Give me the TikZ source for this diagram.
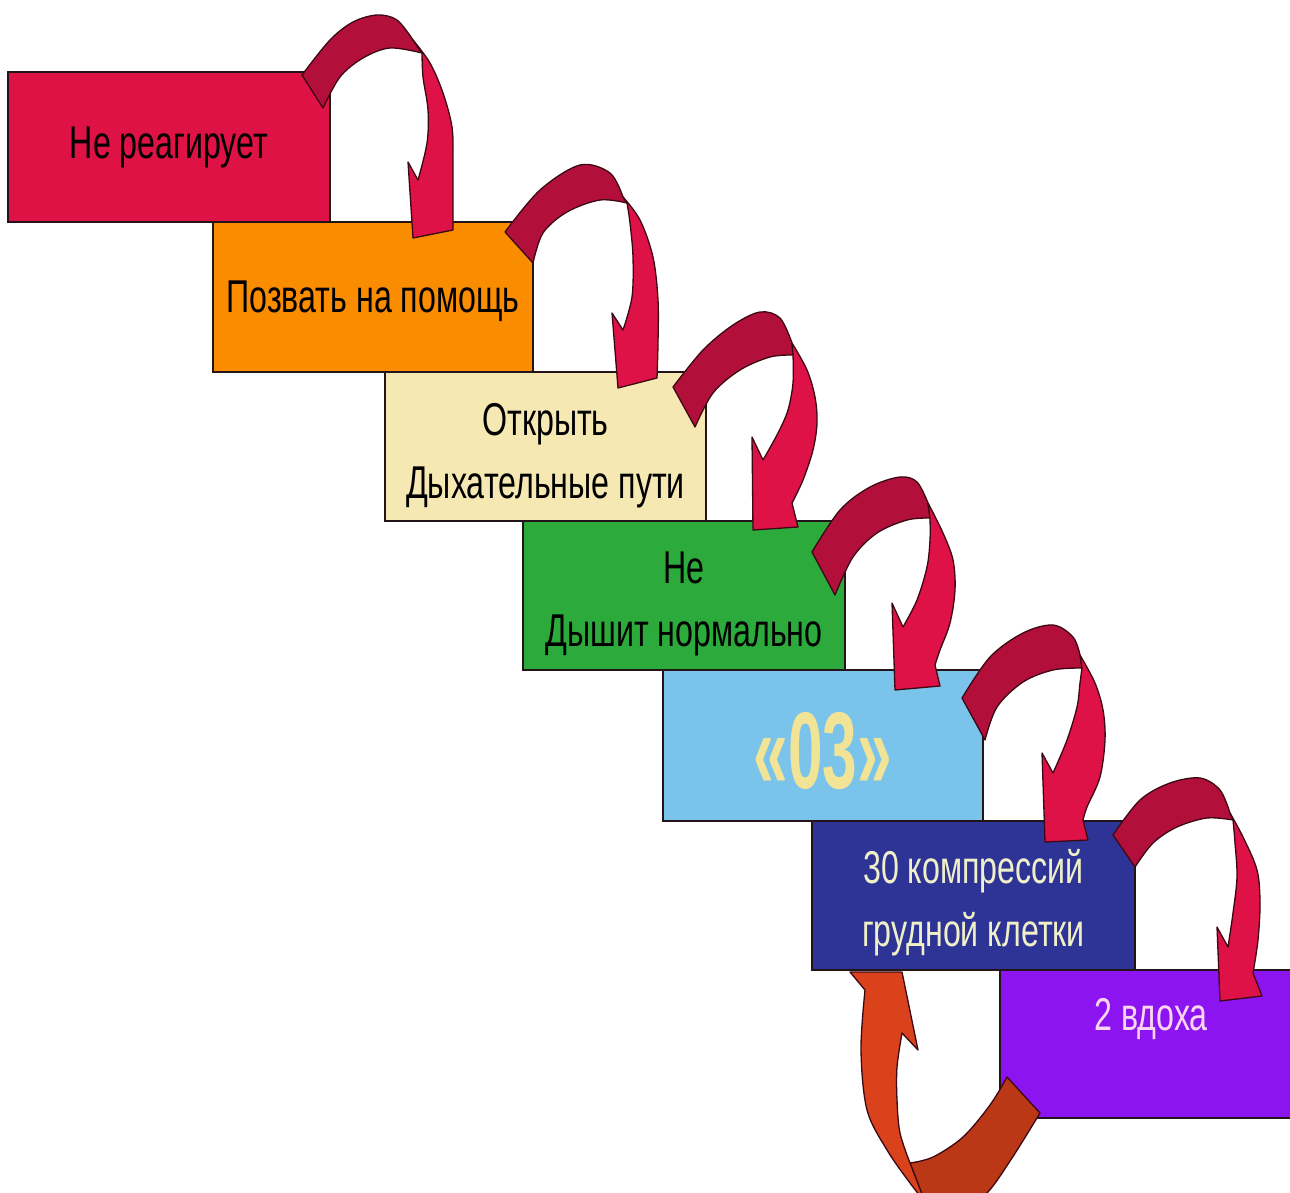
\documentclass[tikz,border=0pt]{standalone}
\usepackage{fontspec}
\setmainfont{Liberation Sans}
\newfontfamily\nfont[FakeStretch=0.70]{Liberation Sans}
\newfontfamily\bfont[FakeStretch=0.57]{Liberation Sans Bold}
\definecolor{cA}{RGB}{222,18,68}
\definecolor{cB}{RGB}{250,140,0}
\definecolor{cC}{RGB}{245,232,178}
\definecolor{cD}{RGB}{44,170,60}
\definecolor{cE}{RGB}{122,196,236}
\definecolor{cF}{RGB}{46,52,150}
\definecolor{cG}{RGB}{140,20,240}
\definecolor{boxline}{RGB}{35,20,25}
\definecolor{ardark}{RGB}{178,16,58}
\definecolor{arbright}{RGB}{222,18,70}
\definecolor{arline}{RGB}{60,8,20}
\definecolor{rethead}{RGB}{218,66,28}
\definecolor{rettail}{RGB}{186,56,22}
\definecolor{txtE}{RGB}{242,228,150}
\definecolor{txtF}{RGB}{240,240,200}
\definecolor{txtG}{RGB}{250,212,240}
\begin{document}
\begin{tikzpicture}[x=1pt,y=-1pt,
  stepbox/.style={rectangle, draw=boxline, line width=1.5pt, inner sep=0pt,
    align=center, font=\nfont\fontsize{46}{63}\selectfont},
  arpart/.style={draw=arline, line width=1.3pt, line join=round},
  sm/.style={smooth, tension=0.55}]
\useasboundingbox (0,0) rectangle (1290,1193);
\clip (0,0) rectangle (1290,1193);
\fill[white] (0,0) rectangle (1290,1193);

% boxes
\node[stepbox, fill=cA, minimum width=322pt, minimum height=150pt] (b1) at (169,147) {Не реагирует};
\node[stepbox, fill=cB, minimum width=320pt, minimum height=150pt, text depth=0pt] (b2) at (373,297) {Позвать на помощь};
\node[stepbox, fill=cC, minimum width=321pt, minimum height=149pt] (b3) at (545.5,446.5) {\rule{0pt}{50pt}Открыть\\Дыхательные пути};
\node[stepbox, fill=cD, minimum width=322pt, minimum height=149pt] (b4) at (684,595.5) {\rule{0pt}{49pt}Не\\Дышит нормально};
\node[stepbox, fill=cE, minimum width=320pt, minimum height=151pt, text=txtE,
  font=\bfont\fontsize{109}{110}\selectfont, text height=86pt, text depth=1pt] (b5) at (823,745.5) {«03»};
\node[stepbox, fill=cF, minimum width=323pt, minimum height=149pt, text=txtF] (b6) at (973.5,895.5) {\rule{0pt}{48pt}30 компрессий\\грудной клетки};
\node[stepbox, fill=cG, minimum width=300pt, minimum height=148pt] (b7) at (1150,1044) {};
\node[font=\nfont\fontsize{46}{63}\selectfont, text=txtG, anchor=base, inner sep=0pt] (t7) at (1151,1030) {2 вдоха};

% arrow 1
\filldraw[arpart, fill=ardark] plot[sm] coordinates {(302,75) (330,40) (353,22) (377,15) (397,20) (413,40)} -- (422,53)
  -- plot[sm] coordinates {(422,53) (390,48) (363,58) (340,77) (323,108)} -- cycle;
\filldraw[arpart, fill=arbright] plot[sm] coordinates {(413,40) (430,63) (443,93) (452,127) (453,160) (453,200) (453,230)}
  -- (413,238) -- (408,162) -- (418,180) -- plot[sm] coordinates {(418,180) (427,143) (428,110) (423,77) (422,53)} -- cycle;
% arrow 2
\filldraw[arpart, fill=ardark] plot[sm] coordinates {(505,232) (540,190) (580,165) (610,173) (623,197)} -- (627,203)
  -- plot[sm] coordinates {(627,203) (600,200) (567,212) (543,233) (533,263)} -- cycle;
\filldraw[arpart, fill=arbright] plot[sm] coordinates {(623,197) (640,220) (653,257) (658,300) (658,343) (657,378)}
  -- (618,388) -- (612,313) -- (623,330) -- plot[sm] coordinates {(623,330) (632,297) (633,257) (630,223) (627,203)} -- cycle;
% arrow 3
\filldraw[arpart, fill=ardark] plot[sm] coordinates {(673,387) (703,350) (733,325) (760,312) (780,318) (792,343)} -- (793,355)
  -- plot[sm] coordinates {(793,355) (770,357) (740,370) (713,393) (695,427)} -- cycle;
\filldraw[arpart, fill=arbright] plot[sm] coordinates {(792,343) (807,370) (815,397) (817,423) (813,450) (803,480) (792,503)}
  -- (798,527) -- (753,530) -- (752,437) -- (763,460) -- plot[sm] coordinates {(763,460) (778,433) (788,410) (793,383) (793,355)} -- cycle;
% arrow 4
\filldraw[arpart, fill=ardark] plot[sm] coordinates {(812,552) (840,510) (870,487) (900,477) (917,482) (928,503)} -- (930,518)
  -- plot[sm] coordinates {(930,518) (907,520) (877,533) (853,557) (835,595)} -- cycle;
\filldraw[arpart, fill=arbright] plot[sm] coordinates {(928,503) (943,533) (953,560) (955,590) (950,623) (940,650) (935,665)}
  -- (940,686) -- (895,690) -- (892,603) -- (903,627) -- plot[sm] coordinates {(903,627) (917,600) (927,567) (930,540) (930,518)} -- cycle;
% arrow 5
\filldraw[arpart, fill=ardark] plot[sm] coordinates {(962,698) (990,657) (1023,633) (1053,625) (1073,637) (1080,655)} -- (1082,668)
  -- plot[sm] coordinates {(1082,668) (1053,670) (1023,682) (997,707) (985,740)} -- cycle;
\filldraw[arpart, fill=arbright] plot[sm] coordinates {(1080,655) (1095,683) (1103,710) (1105,740) (1100,777) (1087,807) (1083,820)}
  -- (1088,840) -- (1045,842) -- (1042,753) -- (1053,773) -- plot[sm] coordinates {(1053,773) (1067,740) (1077,707) (1080,683) (1082,668)} -- cycle;
% arrow 6
\filldraw[arpart, fill=ardark] plot[sm] coordinates {(1113,835) (1140,800) (1170,783) (1200,778) (1220,790) (1230,813)} -- (1233,820)
  -- plot[sm] coordinates {(1233,820) (1207,818) (1177,827) (1153,843) (1135,867)} -- cycle;
\filldraw[arpart, fill=arbright] plot[sm] coordinates {(1230,813) (1243,837) (1257,870) (1260,903) (1258,940) (1253,973)}
  -- (1262,996) -- (1220,1001) -- (1217,927) -- (1228,947) -- plot[sm] coordinates {(1228,947) (1233,913) (1237,877) (1235,843) (1233,820)} -- cycle;
% return arrow
\filldraw[arpart, fill=rettail] (925,1202) -- (910,1163) -- plot[sm] coordinates {(910,1163) (933,1157) (963,1137) (990,1105) (1007,1077)}
  -- (1040,1113) -- plot[sm] coordinates {(1040,1113) (1012,1158) (987,1193) (960,1212)} -- cycle;
\filldraw[arpart, fill=rethead] (850,972) -- (865,990) -- plot[sm] coordinates {(865,990) (861,1050) (867,1110) (887,1150) (910,1183) (925,1202)}
  -- (910,1163) -- plot[sm] coordinates {(910,1163) (900,1133) (897,1100) (897,1067) (902,1033)} -- (918,1050) -- (902,972) -- cycle;
\end{tikzpicture}
\end{document}
